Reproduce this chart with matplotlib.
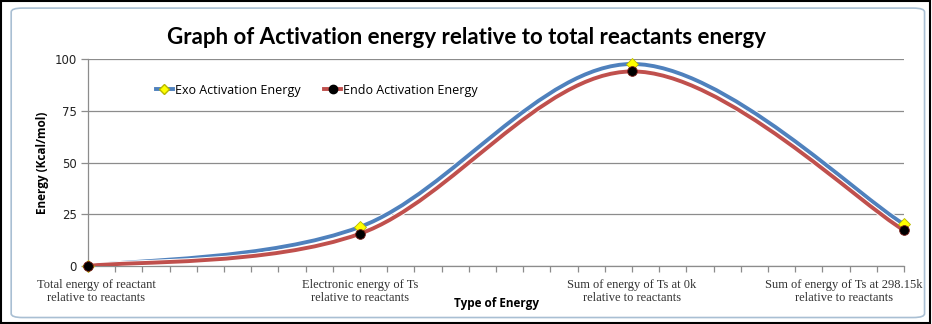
import numpy as np
import matplotlib
matplotlib.use("Agg")
import matplotlib.pyplot as plt
from matplotlib.path import Path
from matplotlib.patches import PathPatch, FancyBboxPatch, Rectangle
from matplotlib.lines import Line2D
import matplotlib.patheffects as pe

# energies (kcal/mol) relative to the reactants
stage_labels = ["Total energy of reactant\nrelative to reactants",
                "Electronic energy of Ts\nrelative to reactants",
                "Sum of energy of Ts at 0k\nrelative to reactants",
                "Sum of energy of Ts at 298.15k\nrelative to reactants"]
stage_x = [0, 1, 2, 3]
exo = [0, 18.9, 97.6, 20.2]
endo = [0, 15.6, 94.0, 17.3]
yticks = [0, 25, 50, 75, 100]

BLUE, RED = "#4F81BD", "#C0504D"


def smooth_path(x, y):
    """Catmull-Rom style cubic Bezier through the points (spreadsheet 'smoothed line')."""
    p = np.column_stack([x, y]).astype(float)
    n = len(p)
    verts = [p[0]]
    for i in range(n - 1):
        p0, p1, p2, p3 = p[max(i - 1, 0)], p[i], p[i + 1], p[min(i + 2, n - 1)]
        verts += [p1 + (p2 - p0) / 6, p2 - (p3 - p1) / 6, p2]
    codes = [Path.MOVETO] + [Path.CURVE4] * (3 * (n - 1))
    return Path(verts, codes)


fig = plt.figure(figsize=(9.32, 3.24), dpi=100)
fig.patch.set_facecolor("white")

# chart area frame
fig.add_artist(Rectangle((0.001, 0.002), 0.997, 0.995, transform=fig.transFigure,
                         fill=False, ec="black", lw=1.5))
fig.add_artist(FancyBboxPatch((0.012, 0.02), 0.98, 0.955, transform=fig.transFigure,
                              boxstyle="round,pad=0,rounding_size=0.012",
                              fill=False, ec="#a9bfd3", lw=1.2))

ax = fig.add_axes([88 / 932, 1 - 266 / 324, (904 - 88) / 932, (266 - 59) / 324])
ax.set_xlim(0, 3)
ax.set_ylim(0, 100)

for series, color in [(exo, BLUE), (endo, RED)]:
    patch = PathPatch(smooth_path(stage_x, series), fill=False, ec=color, lw=2.8,
                      capstyle="round", zorder=3,
                      path_effects=[pe.Stroke(linewidth=4.2, foreground="white"), pe.Normal()])
    ax.add_patch(patch)

ax.plot(stage_x, exo, ls="none", marker="D", ms=6.5, mfc="#FFFF00", mec="#B8B800",
        mew=0.6, zorder=4, clip_on=False)
ax.plot(stage_x, endo, ls="none", marker="o", ms=7, mfc="black", mec="#7a1f1c",
        mew=0.6, zorder=5, clip_on=False)

# gridlines and axes
ax.set_yticks(yticks)
ax.set_yticklabels([str(v) for v in yticks], fontsize=8.5, family="DejaVu Sans", color="#222222")
ax.yaxis.grid(True, color="#8c8c8c", lw=0.9)
ax.set_axisbelow(True)
ax.set_xticks(np.arange(0, 3.001, 0.1))
ax.set_xticklabels([])
ax.tick_params(axis="x", length=4, color="#8c8c8c", width=0.9)
ax.tick_params(axis="y", length=5, color="#8c8c8c", width=0.9, pad=3)
for s in ["top", "right"]:
    ax.spines[s].set_visible(False)
for s in ["left", "bottom"]:
    ax.spines[s].set_color("#8c8c8c")
    ax.spines[s].set_linewidth(0.9)

# category captions under the axis
label_pos = [0.03, 1.0, 2.0, 2.78]
for xp, lab in zip(label_pos, stage_labels):
    ax.text(xp, -6.5, lab, ha="center", va="top", fontsize=9, family="Liberation Serif",
            color="#333333", linespacing=1.05)

ax.set_ylabel("Energy (Kcal/mol)", fontsize=8.5, fontweight="bold", family="Open Sans", labelpad=4)
fig.text(497 / 932, 1 - 304 / 324, "Type of Energy", ha="center", va="center",
         fontsize=8.5, fontweight="bold", family="Open Sans")
fig.suptitle("Graph of Activation energy relative to total reactants energy",
             x=467 / 932, y=1 - 37 / 324, va="center", fontsize=16, fontweight="bold",
             family="Lato")

handles = [Line2D([], [], color=BLUE, lw=2.8, marker="D", ms=5.5, mfc="#FFFF00", mec="#B8B800"),
           Line2D([], [], color=RED, lw=2.8, marker="o", ms=6, mfc="black", mec="black")]
ax.legend(handles, ["Exo Activation Energy", "Endo Activation Energy"], ncol=2,
          loc="center left", bbox_to_anchor=(0.07, 0.85), frameon=False,
          prop={"family": "Open Sans", "size": 9}, handlelength=1.3, handletextpad=0.2,
          columnspacing=1.9)

fig.savefig("out.png", dpi=100)
